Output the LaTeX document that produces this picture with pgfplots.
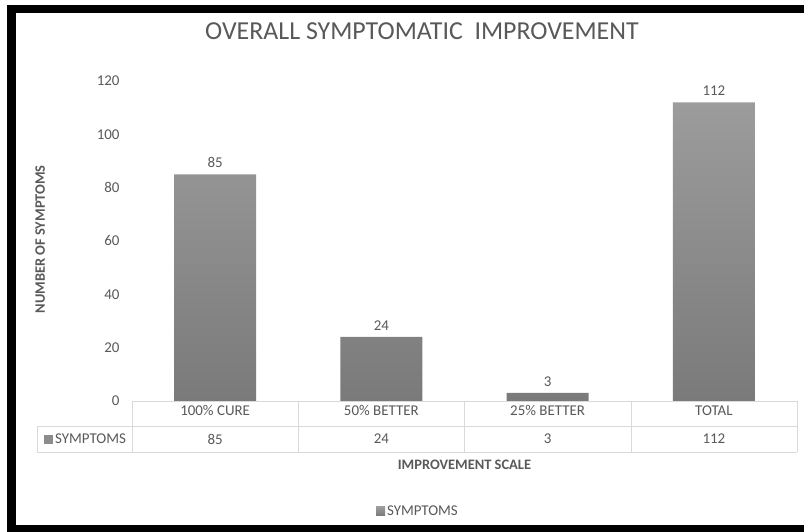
\documentclass[border=0pt]{standalone}
\usepackage{fontspec}
\setmainfont{Carlito}
\usepackage{pgfplots}
\pgfplotsset{compat=1.18}

\definecolor{txt}{HTML}{595959}
\definecolor{grid}{HTML}{D9D9D9}
\definecolor{bartop}{HTML}{9C9C9C}
\definecolor{barbot}{HTML}{7A7A7A}
\definecolor{barflat}{HTML}{8C8C8C}

\begin{document}
\begin{tikzpicture}
% page and black frame (image rows flipped: y = 532 - row)
\fill[white] (-3bp,-3bp) rectangle (807bp,535bp);
\fill[black] (7bp,527bp) rectangle (804bp,519bp);
\fill[black] (7bp,0bp) rectangle (16bp,527bp);
\fill[black] (7bp,0bp) rectangle (804bp,7bp);

\node[text=txt,font=\fontsize{26}{30}\selectfont] at (422bp,501bp) {OVERALL SYMPTOMATIC\ \ IMPROVEMENT};

\begin{axis}[
    at={(132bp,131bp)}, anchor=south west,
    scale only axis,
    width=665bp, height=320bp,
    xmin=-0.5, xmax=3.5,
    ymin=0, ymax=120,
    ytick={0,20,...,120},
    xtick={0,1,2,3},
    xticklabels={100\% CURE,50\% BETTER,25\% BETTER,TOTAL},
    major tick length=0pt,
    axis line style={draw=none},
    clip=false,
    /pgf/number format/assume math mode=true,
    tick label style={text=txt,font=\fontsize{15}{17}\selectfont},
    yticklabel style={xshift=-9bp},
    xticklabel style={yshift=-1bp},
    xlabel={\textbf{IMPROVEMENT SCALE}},
    xlabel style={at={(axis description cs:0.5,-0.2)},anchor=center,text=txt,font=\fontsize{14.5}{16}\selectfont},
    ylabel={\textbf{NUMBER OF SYMPTOMS}},
    ylabel style={at={(axis description cs:-0.138,0.505)},anchor=center,text=txt,font=\fontsize{14.5}{16}\selectfont},
    legend style={at={(axis description cs:0.43,-0.345)},anchor=center,draw=none,fill=none,
        text=txt,font=\fontsize{15}{17}\selectfont,inner sep=0pt},
    legend image code/.code={\fill[barflat] (0bp,-4.5bp) rectangle (9bp,4.5bp);},
    nodes near coords,
    nodes near coords style={text=txt,font=\fontsize{15}{17}\selectfont,yshift=3bp},
]
\addplot[ybar, bar width=82bp, draw=none, top color=bartop, bottom color=barbot]
    coordinates {(0,85) (1,24) (2,3) (3,112)};
\addlegendentry{SYMPTOMS}

% data table under the axis
\draw[grid] (axis cs:-0.5,0) -- (axis cs:3.5,0);
\draw[grid] ([xshift=-95bp,yshift=-25bp]axis cs:-0.5,0) -- ([yshift=-25bp]axis cs:3.5,0);
\draw[grid] ([xshift=-95bp,yshift=-51bp]axis cs:-0.5,0) -- ([yshift=-51bp]axis cs:3.5,0);
\draw[grid] ([xshift=-95bp,yshift=-25bp]axis cs:-0.5,0) -- ([xshift=-95bp,yshift=-51bp]axis cs:-0.5,0);
\pgfplotsinvokeforeach{-0.5,0.5,1.5,2.5,3.5}{
  \draw[grid] (axis cs:#1,0) -- ([yshift=-51bp]axis cs:#1,0);
}
\fill[barflat] ([xshift=-88bp,yshift=-42.5bp]axis cs:-0.5,0) rectangle ([xshift=-79bp,yshift=-33.5bp]axis cs:-0.5,0);
\node[anchor=west,text=txt,font=\fontsize{15}{17}\selectfont,inner sep=0pt]
    at ([xshift=-77bp,yshift=-38bp]axis cs:-0.5,0) {SYMPTOMS};
\node[text=txt,font=\fontsize{15}{17}\selectfont] at ([yshift=-38bp]axis cs:0,0) {85};
\node[text=txt,font=\fontsize{15}{17}\selectfont] at ([yshift=-38bp]axis cs:1,0) {24};
\node[text=txt,font=\fontsize{15}{17}\selectfont] at ([yshift=-38bp]axis cs:2,0) {3};
\node[text=txt,font=\fontsize{15}{17}\selectfont] at ([yshift=-38bp]axis cs:3,0) {112};
\end{axis}
\pgfresetboundingbox
\useasboundingbox (0bp,0bp) rectangle (804bp,532bp);
\end{tikzpicture}
\end{document}
